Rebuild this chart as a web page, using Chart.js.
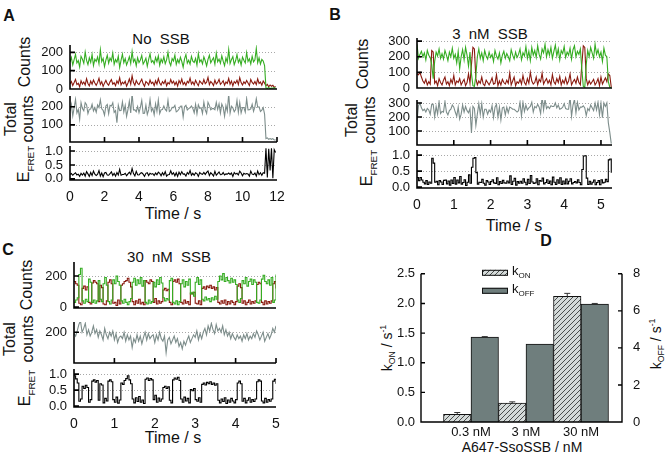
<!DOCTYPE html>
<html>
<head>
<meta charset="utf-8">
<script src="https://cdn.jsdelivr.net/npm/chart.js@4.4.1/dist/chart.umd.min.js"></script>
<style>
  html, body { margin: 0; padding: 0; background: #fff; }
  #fig { position: relative; width: 672px; height: 456px; overflow: hidden;
         font-family: Arial, "Liberation Sans", sans-serif; color: #111; }
  #fig canvas { position: absolute; }
  .t { position: absolute; white-space: nowrap; line-height: 1; transform: translate(-50%, -50%); }
  .r { transform: translate(-50%, -50%) rotate(-90deg); }
  .t sub { font-size: 62%; }
  .t sup { font-size: 62%; }
  .big { font-size: 16px; }
  .lab { font-size: 16px; }
  .let { font-size: 16px; font-weight: bold; }
</style>
</head>
<body>
<div id="fig">
  <div class="t let" style="left:9px;top:16px">A</div>
  <div class="t let" style="left:335px;top:15px">B</div>
  <div class="t let" style="left:8px;top:250px">C</div>
  <div class="t let" style="left:546px;top:241px">D</div>

  <div class="t" style="left:161px;top:38px;font-size:15px;word-spacing:4px">No SSB</div>
  <div class="t" style="left:490px;top:33px;font-size:15px;word-spacing:4px">3 nM SSB</div>
  <div class="t" style="left:169px;top:256px;font-size:15px;word-spacing:4px">30 nM SSB</div>

  <div class="t r lab" style="left:25px;top:62px">Counts</div>
  <div class="t r lab" style="left:11px;top:119px">Total</div>
  <div class="t r lab" style="left:28px;top:119px">counts</div>
  <div class="t r lab" style="left:26px;top:164px">E<sub>FRET</sub></div>
  <div class="t big" style="left:173px;top:214px">Time / s</div>

  <div class="t r lab" style="left:363px;top:64px">Counts</div>
  <div class="t r lab" style="left:352px;top:120px">Total</div>
  <div class="t r lab" style="left:370px;top:120px">counts</div>
  <div class="t r lab" style="left:369px;top:168px">E<sub>FRET</sub></div>
  <div class="t big" style="left:514px;top:226px">Time / s</div>

  <div class="t r lab" style="left:27px;top:285px">Counts</div>
  <div class="t r lab" style="left:10px;top:339px">Total</div>
  <div class="t r lab" style="left:28px;top:339px">counts</div>
  <div class="t r lab" style="left:27px;top:388px">E<sub>FRET</sub></div>
  <div class="t big" style="left:173px;top:438px">Time / s</div>

  <div class="t r" style="left:388px;top:348px;font-size:14px">k<sub>ON</sub> / s<sup>-1</sup></div>
  <div class="t r" style="left:657px;top:344px;font-size:14px">k<sub>OFF</sub> / s<sup>-1</sup></div>
  <div class="t" style="left:522px;top:447px;font-size:14px">A647-SsoSSB / nM</div>
</div>
<script>
// ---- panel A: No SSB (bin 0.08 s)
const dtA = 0.08;
const donorA = [
  148,172,131,160,189,142,155,120,178,163, 140,201,156,133,170,145,188,128,162,150,
  175,138,214,149,167,122,158,184,141,169, 153,196,135,161,146,179,118,157,190,143,
  166,131,152,176,139,205,148,163,127,171, 144,158,183,136,150,168,124,161,192,146,
  155,137,172,149,181,130,163,145,176,138, 159,201,147,128,166,153,185,134,161,142,
  173,150,119,164,188,141,157,136,178,152, 145,167,130,193,148,160,137,175,154,126,
  162,184,143,158,171,135,196,149,163,140, 181,152,127,169,146,215,139,160,177,133,
  154,188,145,162,131,174,157,142,199,150, 165,137,178,148,159,221,143,170,136,161,
  152,128,6,3,8,2,5,4,7,3
];
const acceptorA = [
  28,41,19,35,52,24,31,12,45,27, 38,22,56,30,17,43,26,49,33,20,
  36,58,25,40,14,32,47,29,21,39, 51,26,34,18,44,30,61,23,37,28,
  42,16,33,55,27,72,35,20,46,31, 24,39,53,28,15,41,34,22,49,30,
  37,19,45,26,57,33,21,40,29,48, 18,35,27,52,31,43,23,38,16,46,
  30,54,25,36,20,42,33,59,27,39, 22,47,31,18,44,35,26,51,29,37,
  63,24,41,32,19,49,28,36,53,25, 34,45,21,38,30,57,26,43,17,40,
  31,48,24,62,35,22,39,29,46,33, 19,52,36,27,41,24,55,30,38,21,
  44,32,18,25,12,22,15,20,9,14
];
const totalA = [
  176,213,150,195,241,166,186,132,223,190, 178,223,212,163,187,188,214,177,195,170,
  211,196,239,189,181,154,205,213,162,208, 204,222,169,179,112,209,179,180,227,171,
  208,147,185,231,166,277,183,183,173,202, 168,197,236,164,165,209,158,183,241,176,
  192,156,217,175,238,163,184,185,205,186, 177,236,174,180,197,196,208,172,177,188,
  203,204,144,200,208,183,190,195,205,191, 167,214,161,211,192,195,163,226,183,163,
  225,208,184,190,190,184,224,185,216,165, 215,197,148,207,176,272,165,203,194,173,
  185,236,169,224,166,196,196,171,245,183, 184,189,214,175,200,245,198,200,174,182,
  196,160,24,28,20,24,20,24,16,17
];
const fretA = [
  0.16,0.19,0.13,0.18,0.22,0.14,0.17,0.09,0.20,0.14, 0.21,0.10,0.26,0.18,0.09,0.23,0.12,0.28,0.17,0.12,
  0.17,0.30,0.10,0.21,0.08,0.21,0.23,0.14,0.13,0.19, 0.25,0.12,0.20,0.10,0.23,0.14,0.34,0.13,0.16,0.16,
  0.20,0.11,0.18,0.24,0.16,0.37,0.19,0.11,0.27,0.15, 0.14,0.20,0.22,0.17,0.09,0.20,0.22,0.12,0.20,0.17,
  0.19,0.12,0.21,0.15,0.24,0.20,0.11,0.22,0.14,0.26, 0.10,0.15,0.16,0.29,0.16,0.22,0.11,0.22,0.09,0.24,
  0.15,0.26,0.17,0.18,0.10,0.23,0.17,0.30,0.13,0.20, 0.13,0.22,0.19,0.09,0.23,0.18,0.16,0.23,0.16,0.23,
  0.28,0.12,0.22,0.17,0.10,0.27,0.13,0.19,0.25,0.15, 0.16,0.23,0.14,0.18,0.17,0.21,0.16,0.21,0.09,0.23,
  0.17,0.20,0.14,0.28,0.21,0.11,0.20,0.17,0.19,0.18, 0.10,0.28,0.17,0.15,0.21,0.10,0.28,0.15,0.22,0.13,
  0.22,0.20,1.10,0.05,1.08,0.30,1.10,0.02,1.05,0.95
];

// ---- panel B: 3 nM SSB (bin 0.04 s)
const dtB = 0.04;
const donorB = [
  280,190,215,235,200,225,180,240,210,195, 150,60,170,230,205,250,190,220,185,240,
  210,175,230,200,255,190,215,160,235,125, 200,245,180,260,210,140,230,90,15,10,
  80,200,250,190,225,175,240,205,185,230, 195,215,170,240,205,185,225,160,210,235,
  190,220,200,175,245,210,185,230,195,215, 250,180,225,205,265,190,235,175,260,210,
  240,195,270,215,185,250,225,280,200,245, 210,260,190,235,275,205,250,180,240,220,
  265,195,230,210,255,185,245,270,200,235, 215,250,120,10,5,150,240,200,260,225,
  190,280,215,245,200,230,170,255,210,200, 40,5,3
];
const acceptorB = [
  90,85,100,70,45,30,55,20,40,25, 240,230,30,45,15,60,35,20,50,70,
  25,40,15,55,30,80,20,45,35,60, 20,40,55,15,35,90,30,150,260,250,
  60,20,45,30,70,25,15,50,35,20, 40,65,25,30,85,15,45,20,55,35,
  25,50,30,95,20,45,70,15,40,30, 55,25,80,35,20,60,30,100,45,25,
  35,70,20,55,40,95,25,45,60,30, 50,20,85,40,25,60,35,75,20,50,
  30,65,25,45,90,20,40,55,30,70, 35,20,150,270,260,60,20,45,25,40,
  55,20,35,60,15,70,25,45,65,40, 90,80,5
];
const totalB = [
  170,280,300,265,245,255,235,260,250,220, 290,290,200,275,220,310,225,240,235,310,
  235,215,245,255,285,270,235,205,270,185, 220,285,235,275,245,230,260,85,275,260,
  140,220,295,220,295,200,255,255,220,250, 235,280,195,270,290,200,270,180,265,270,
  215,270,230,270,265,255,255,245,235,245, 305,205,305,240,285,250,265,275,305,235,
  275,265,290,270,225,345,250,325,260,275, 260,280,275,275,300,265,285,255,260,270,
  295,260,255,255,345,205,285,325,230,305, 250,270,270,280,265,210,260,245,285,265,
  245,300,250,305,215,300,195,300,275,300, 160,90,10
];
const fretB = [
  0.30,0.20,0.30,0.22,0.15,0.10,0.20,0.08,0.16,0.12, 0.90,0.75,0.15,0.18,0.07,0.20,0.16,0.08,0.21,0.22,
  0.10,0.19,0.06,0.22,0.11,0.30,0.09,0.22,0.13,0.33, 0.09,0.14,0.23,0.05,0.15,0.38,0.12,0.62,0.90,0.92,
  0.45,0.09,0.15,0.14,0.24,0.12,0.06,0.20,0.16,0.08, 0.17,0.23,0.13,0.11,0.29,0.07,0.17,0.11,0.21,0.13,
  0.12,0.19,0.13,0.35,0.08,0.18,0.27,0.06,0.17,0.12, 0.18,0.12,0.26,0.15,0.07,0.24,0.11,0.36,0.16,0.11,
  0.13,0.26,0.07,0.20,0.18,0.28,0.10,0.14,0.23,0.11, 0.19,0.07,0.31,0.15,0.08,0.23,0.12,0.29,0.08,0.19,
  0.10,0.25,0.10,0.18,0.26,0.10,0.14,0.17,0.13,0.23, 0.14,0.07,0.55,0.97,0.98,0.28,0.08,0.18,0.09,0.15,
  0.22,0.07,0.14,0.20,0.07,0.23,0.13,0.15,0.24,0.17, 0.85,0.88,0.45
];

// ---- panel C: 30 nM SSB (bin 0.04 s)
const dtC = 0.04;
const donorC = [
  30,45,60,210,250,40,25,50,35,180, 160,30,45,25,40,170,50,35,150,190,
  140,35,20,45,175,150,200,165,140,40, 25,50,30,15,35,55,160,185,140,175,
  150,190,135,170,30,20,45,25,35,160, 130,175,145,190,155,60,40,55,45,170,
  185,30,20,40,15,35,150,175,130,165, 140,180,85,95,70,160,190,145,175,50,
  40,65,45,55,35,60,45,70,50,165, 200,175,215,165,190,170,155,185,160,175,
  145,45,30,55,170,150,190,135,165,180, 145,175,160,30,25,45,180,205,165,150,
  175,140,190,30,45,210
];
const acceptorC = [
  165,150,140,25,15,120,135,110,130,30, 20,155,170,160,150,35,140,125,20,15,
  40,160,175,150,25,30,10,45,20,140, 150,165,170,185,160,130,35,15,40,25,
  50,20,30,15,170,160,150,175,165,30, 55,20,40,25,35,110,120,105,115,30,
  15,165,175,160,180,150,30,20,45,25, 35,15,90,85,95,25,20,40,15,120,
  130,115,135,125,140,120,130,110,125,30, 20,40,25,45,15,35,20,40,30,15,
  35,135,150,125,25,40,15,30,45,20, 35,25,40,145,160,150,30,15,40,20,
  35,25,40,150,165,120
];
const totalC = [
  195,185,205,230,245,200,215,235,190,210, 185,200,225,195,210,180,205,190,170,215,
  190,175,200,185,205,170,195,160,180,185, 175,200,165,190,170,185,140,175,160,190,
  165,185,155,180,200,170,195,175,185,190, 160,190,170,200,175,165,185,120,170,180,
  155,170,185,160,175,145,160,135,165,150, 170,185,160,175,190,180,205,170,195,175,
  200,215,190,225,205,235,210,195,230,205, 215,200,225,190,210,185,200,175,195,180,
  170,190,175,185,165,190,175,195,170,185, 175,195,180,205,190,170,185,200,165,180,
  195,175,190,215,200,225
];
const fretC = [
  0.95,0.85,0.72,0.15,0.22,0.62,0.55,0.65,0.58,0.12, 0.20,0.78,0.82,0.75,0.80,0.18,0.70,0.66,0.10,0.24,
  0.16,0.78,0.82,0.76,0.20,0.12,0.28,0.09,0.19,0.72, 0.68,0.80,0.86,0.95,0.82,0.70,0.22,0.10,0.26,0.14,
  0.30,0.12,0.19,0.08,0.84,0.88,0.80,0.86,0.82,0.20, 0.34,0.12,0.25,0.15,0.22,0.58,0.62,0.55,0.60,0.18,
  0.10,0.82,0.88,0.84,0.90,0.80,0.22,0.12,0.28,0.16, 0.24,0.10,0.52,0.48,0.55,0.20,0.15,0.26,0.12,0.68,
  0.72,0.66,0.74,0.70,0.76,0.68,0.72,0.65,0.70,0.18, 0.10,0.22,0.14,0.26,0.08,0.19,0.12,0.24,0.16,0.10,
  0.20,0.72,0.78,0.70,0.15,0.24,0.10,0.18,0.26,0.12, 0.20,0.14,0.22,0.76,0.82,0.78,0.16,0.10,0.24,0.12,
  0.20,0.15,0.22,0.78,0.84,0.70
];

// ---- tick values
const timeTicksA = [0, 2, 4, 6, 8, 10, 12];
const timeTicksBC = [0, 1, 2, 3, 4, 5];
const countTicksA = [0, 100, 200];
const totalTicksA = [100, 200];
const countTicksB = [0, 100, 200, 300];
const totalTicksB = [100, 200, 300];
const countTicksC = [0, 200];
const totalTicksC = [200];
const fretTicks = [0, 0.5, 1.0];

// ---- panel D
const concLabels = ['0.3 nM', '3 nM', '30 nM'];
const kOn = [0.13, 0.32, 2.12];
const kOnErr = [0.03, 0.02, 0.05];
const kOff = [4.58, 4.21, 6.37];
const kOffErr = [0.03, 0, 0.03];
const kOnTicks = [0, 0.5, 1.0, 1.5, 2.0, 2.5];
const kOffTicks = [0, 2, 4, 6, 8];

const GREEN = '#35ad22', RED = '#8a1a0f', GRAY = '#7d8d8b', BLACK = '#000';

Chart.defaults.font.family = 'Arial, "Liberation Sans", sans-serif';
Chart.defaults.color = '#111';

const fig = document.getElementById('fig');
function addCanvas(left, top, w, h) {
  const c = document.createElement('canvas');
  c.width = w; c.height = h;
  c.style.left = left + 'px'; c.style.top = top + 'px';
  fig.appendChild(c);
  return c;
}

function pts(vals, dt) {
  return vals.map((v, i) => ({ x: i * dt, y: v }));
}

function frame(o) {
  return {
    id: 'frame',
    beforeDatasetsDraw(chart) {
      const { ctx, chartArea: a, scales: { y } } = chart;
      ctx.save();
      ctx.strokeStyle = '#a8a8a8'; ctx.lineWidth = 1; ctx.setLineDash([1, 2]);
      o.grid.forEach(v => {
        const py = Math.round(y.getPixelForValue(v)) + 0.5;
        ctx.beginPath(); ctx.moveTo(a.left, py); ctx.lineTo(a.right, py); ctx.stroke();
      });
      ctx.restore();
    },
    afterDatasetsDraw(chart) {
      const { ctx, chartArea: a, scales: { x, y } } = chart;
      ctx.save();
      ctx.strokeStyle = '#000'; ctx.lineWidth = 1.6;
      ctx.beginPath();
      ctx.moveTo(a.left, a.top); ctx.lineTo(a.left, a.bottom); ctx.lineTo(a.right, a.bottom);
      o.yTicks.forEach(v => {
        const py = y.getPixelForValue(v);
        ctx.moveTo(a.left, py); ctx.lineTo(a.left + 5, py);
      });
      (o.xMarks || []).forEach(v => {
        const px = x.getPixelForValue(v);
        ctx.moveTo(px, a.bottom); ctx.lineTo(px, a.bottom - 5);
      });
      ctx.stroke();
      ctx.restore();
    }
  };
}

// margins around each plot box
const M = { l: 50, t: 16, r: 22, b: 16 };

function traceChart(box, lines, o) {
  const xh = o.xLabels ? 22 : 0;
  const w = M.l + box.w + M.r, h = M.t + box.h + xh + M.b;
  const cv = addCanvas(box.l - M.l, box.t - M.t, w, h);
  return new Chart(cv, {
    type: 'line',
    data: {
      datasets: lines.map(s => ({
        data: pts(s.data, o.dt), borderColor: s.color, borderWidth: 1.1,
        pointRadius: 0, stepped: !!o.steps, tension: 0, fill: false
      }))
    },
    options: {
      responsive: false, animation: false, events: [],
      layout: { padding: { left: 0, top: M.t, right: M.r, bottom: M.b } },
      plugins: { legend: { display: false }, tooltip: { enabled: false } },
      scales: {
        x: {
          type: 'linear', min: 0, max: o.xMax, display: !!o.xLabels, offset: false,
          grid: { display: false, drawTicks: false }, border: { display: false },
          afterBuildTicks: s => { s.ticks = (o.xLabels || []).map(v => ({ value: v })); },
          afterFit: s => { s.height = xh; },
          ticks: { padding: 9, font: { size: 14 }, maxRotation: 0, autoSkip: false }
        },
        y: {
          type: 'linear', min: o.yMin, max: o.yMax,
          grid: { display: false, drawTicks: false }, border: { display: false },
          afterBuildTicks: s => { s.ticks = o.yTicks.map(v => ({ value: v })); },
          afterFit: s => { s.width = M.l; },
          ticks: { padding: 7, font: { size: 13 }, autoSkip: false,
                   callback: o.fmt || (v => String(v)) }
        }
      }
    },
    plugins: [frame({ grid: o.grid, yTicks: o.yTicks, xMarks: o.xMarks })]
  });
}

const f1 = v => v.toFixed(1);

// A
traceChart({ l: 70, t: 45, w: 207, h: 44 },
  [{ data: donorA, color: GREEN }, { data: acceptorA, color: RED }],
  { dt: dtA, xMax: 12, yMin: 0, yMax: 240, yTicks: countTicksA, grid: [100, 200] });
traceChart({ l: 70, t: 96, w: 207, h: 46 },
  [{ data: totalA, color: GRAY }],
  { dt: dtA, xMax: 12, yMin: 5, yMax: 260, yTicks: totalTicksA, grid: [100, 200], xMarks: timeTicksA });
traceChart({ l: 70, t: 146, w: 207, h: 34 },
  [{ data: fretA, color: BLACK }],
  { dt: dtA, xMax: 12, yMin: -0.04, yMax: 1.18, yTicks: fretTicks, grid: [0.5, 1.0], fmt: f1, xLabels: timeTicksA });

// B
traceChart({ l: 417, t: 38, w: 195, h: 50 },
  [{ data: donorB, color: GREEN }, { data: acceptorB, color: RED }],
  { dt: dtB, xMax: 5.3, yMin: 0, yMax: 320, yTicks: countTicksB, grid: [100, 200, 300] });
traceChart({ l: 417, t: 100, w: 195, h: 45 },
  [{ data: totalB, color: GRAY }],
  { dt: dtB, xMax: 5.3, yMin: 0, yMax: 321, yTicks: totalTicksB, grid: [100, 200, 300], xMarks: timeTicksBC });
traceChart({ l: 417, t: 150, w: 195, h: 38 },
  [{ data: fretB, color: BLACK }],
  { dt: dtB, xMax: 5.3, yMin: -0.03, yMax: 1.16, yTicks: fretTicks, grid: [0.5, 1.0], fmt: f1, xLabels: timeTicksBC, steps: true });

// C
traceChart({ l: 74, t: 262, w: 202, h: 46 },
  [{ data: donorC, color: GREEN }, { data: acceptorC, color: RED }],
  { dt: dtC, xMax: 5, yMin: -6, yMax: 290, yTicks: countTicksC, grid: [200], steps: true });
traceChart({ l: 74, t: 322, w: 202, h: 41 },
  [{ data: totalC, color: GRAY }],
  { dt: dtC, xMax: 5, yMin: 80, yMax: 240, yTicks: totalTicksC, grid: [200], xMarks: timeTicksBC });
traceChart({ l: 74, t: 369, w: 202, h: 38 },
  [{ data: fretC, color: BLACK }],
  { dt: dtC, xMax: 5, yMin: -0.03, yMax: 1.16, yTicks: fretTicks, grid: [0.5, 1.0], fmt: f1, xLabels: timeTicksBC, steps: true });

// D: rate constants
const dCanvas = addCanvas(380, 255, 292, 201);
const dctx = dCanvas.getContext('2d');
const tile = document.createElement('canvas');
tile.width = 5; tile.height = 5;
const tg = tile.getContext('2d');
tg.fillStyle = '#d4dad9'; tg.fillRect(0, 0, 5, 5);
tg.strokeStyle = '#3a3d3d'; tg.lineWidth = 0.9;
tg.beginPath();
tg.moveTo(-1, 6); tg.lineTo(6, -1);
tg.moveTo(-1, 1); tg.lineTo(1, -1);
tg.moveTo(4, 6); tg.lineTo(6, 4);
tg.stroke();
const hatch = dctx.createPattern(tile, 'repeat');
const OFFCOL = '#6f7e7d';

const dDeco = {
  id: 'dDeco',
  afterDatasetsDraw(chart) {
    const { ctx, chartArea: a, scales } = chart;
    ctx.save();
    // error bars
    ctx.strokeStyle = '#333'; ctx.lineWidth = 1;
    [[0, kOn, kOnErr, 'y'], [1, kOff, kOffErr, 'y2']].forEach(([di, vals, errs, ax]) => {
      const meta = chart.getDatasetMeta(di), sc = scales[ax];
      meta.data.forEach((bar, i) => {
        if (!errs[i]) return;
        const y1 = sc.getPixelForValue(vals[i]), y2 = sc.getPixelForValue(vals[i] + errs[i]);
        ctx.beginPath();
        ctx.moveTo(bar.x, y1); ctx.lineTo(bar.x, y2);
        ctx.moveTo(bar.x - 3, y2); ctx.lineTo(bar.x + 3, y2);
        ctx.stroke();
      });
    });
    // axes
    ctx.strokeStyle = '#000'; ctx.lineWidth = 1.4;
    ctx.beginPath();
    ctx.moveTo(a.left, a.top); ctx.lineTo(a.left, a.bottom); ctx.lineTo(a.right, a.bottom); ctx.lineTo(a.right, a.top);
    kOnTicks.forEach(v => { const py = scales.y.getPixelForValue(v); ctx.moveTo(a.left, py); ctx.lineTo(a.left + 4, py); });
    kOffTicks.forEach(v => { const py = scales.y2.getPixelForValue(v); ctx.moveTo(a.right, py); ctx.lineTo(a.right - 4, py); });
    ctx.stroke();
    // legend
    const lx = a.left + 61;
    [[hatch, 'k', 'ON', a.top - 1], [OFFCOL, 'k', 'OFF', a.top + 17]].forEach(([fillc, k, sub, cy]) => {
      ctx.fillStyle = fillc;
      ctx.fillRect(lx, cy - 3, 26, 6);
      ctx.strokeStyle = '#111'; ctx.lineWidth = 1;
      ctx.strokeRect(lx + 0.5, cy - 2.5, 25, 5);
      ctx.fillStyle = '#111';
      ctx.textBaseline = 'middle';
      ctx.font = '13px Arial, "Liberation Sans", sans-serif';
      ctx.fillText(k, lx + 30, cy - 1);
      const kw = ctx.measureText(k).width;
      ctx.font = '8px Arial, "Liberation Sans", sans-serif';
      ctx.fillText(sub, lx + 30 + kw, cy + 3);
    });
    ctx.restore();
  }
};

new Chart(dCanvas, {
  type: 'bar',
  data: {
    datasets: [
      { label: 'kON', data: kOn.map((v, i) => ({ x: i + 1, y: v })), yAxisID: 'y',
        backgroundColor: hatch, borderColor: '#111', borderWidth: 1,
        categoryPercentage: 1, barPercentage: 1 },
      { label: 'kOFF', data: kOff.map((v, i) => ({ x: i + 1, y: v })), yAxisID: 'y2',
        backgroundColor: OFFCOL, borderColor: '#111', borderWidth: 1,
        categoryPercentage: 1, barPercentage: 1 }
    ]
  },
  options: {
    responsive: false, animation: false, events: [],
    layout: { padding: { left: 0, top: 15, right: 0, bottom: 0 } },
    plugins: { legend: { display: false }, tooltip: { enabled: false } },
    scales: {
      x: {
        type: 'linear', offset: false, min: 1 - 50 / 55, max: 1 - 50 / 55 + 201 / 55,
        grid: { display: false, offset: false, drawTicks: false }, border: { display: false },
        afterBuildTicks: s => { s.ticks = concLabels.map((c, i) => ({ value: i + 1 })); },
        afterFit: s => { s.height = 34; },
        ticks: { padding: 3, font: { size: 13 }, autoSkip: false, maxRotation: 0,
                 callback: (v, i) => concLabels[i] }
      },
      y: {
        position: 'left', min: 0, max: 2.5,
        grid: { display: false, drawTicks: false }, border: { display: false },
        afterBuildTicks: s => { s.ticks = kOnTicks.map(v => ({ value: v })); },
        afterFit: s => { s.width = 41; },
        ticks: { padding: 6, font: { size: 13 }, callback: v => v.toFixed(1) }
      },
      y2: {
        position: 'right', min: 0, max: 8,
        grid: { display: false, drawTicks: false }, border: { display: false },
        afterBuildTicks: s => { s.ticks = kOffTicks.map(v => ({ value: v })); },
        afterFit: s => { s.width = 50; },
        ticks: { padding: 11, font: { size: 13 }, callback: v => String(v) }
      }
    }
  },
  plugins: [dDeco]
});
</script>
</body>
</html>
